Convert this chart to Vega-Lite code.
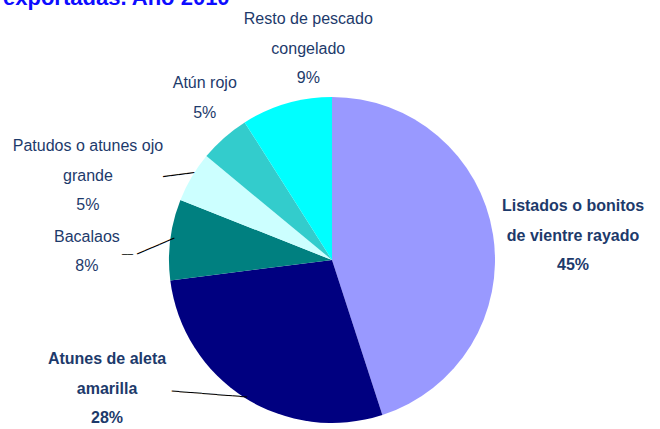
{
  "$schema": "https://vega.github.io/schema/vega-lite/v6.json",
  "width": 326,
  "height": 326,
  "autosize": "none",
  "padding": {"left": 169, "top": 97, "right": 165, "bottom": 6},
  "background": "white",
  "title": {"text": "exportadas. Año 2010", "anchor": "start", "frame": "group", "dx": -166, "dy": -1, "offset": 0, "fontSize": 22, "font": "Liberation Sans", "fontWeight": "bold", "color": "#0d0dff"},
  "data": {"values": [
    {"cat": "Listados o bonitos de vientre rayado", "label": "Listados o bonitos\nde vientre rayado\n45%", "pct": 45, "ord": 1},
    {"cat": "Atunes de aleta amarilla", "label": "Atunes de aleta\namarilla\n28%", "pct": 28, "ord": 2},
    {"cat": "Bacalaos", "label": "Bacalaos\n8%", "pct": 8, "ord": 3},
    {"cat": "Patudos o atunes ojo grande", "label": "Patudos o atunes ojo\ngrande\n5%", "pct": 5, "ord": 4},
    {"cat": "Atún rojo", "label": "Atún rojo\n5%", "pct": 5, "ord": 5},
    {"cat": "Resto de pescado congelado", "label": "Resto de pescado\ncongelado\n9%", "pct": 9, "ord": 6}
  ]},
  "encoding": {
    "theta": {"field": "pct", "type": "quantitative", "stack": true},
    "order": {"field": "ord", "type": "quantitative"}
  },
  "layer": [
    {"mark": {"type": "arc", "outerRadius": 163},
     "encoding": {"color": {"field": "cat", "type": "nominal", "legend": null,
       "scale": {"domain": ["Listados o bonitos de vientre rayado", "Atunes de aleta amarilla", "Bacalaos", "Patudos o atunes ojo grande", "Atún rojo", "Resto de pescado congelado"],
                 "range": ["#9999ff", "#000080", "#008080", "#ccffff", "#33cccc", "#00ffff"]}}}},
    {"mark": {"type": "text", "radius": 200, "dx": 43.5, "dy": -22.7, "font": "Liberation Sans", "fontSize": 16, "fontWeight": "bold", "lineBreak": "\n", "lineHeight": 29.5, "align": "center", "baseline": "middle", "color": "#1d3a6b"},
     "encoding": {"text": {"condition": {"test": "datum.ord == 1", "field": "label"}, "value": ""}}},
    {"mark": {"type": "text", "radius": 150, "dx": -144.6, "dy": -27.6, "font": "Liberation Sans", "fontSize": 16, "fontWeight": "bold", "lineBreak": "\n", "lineHeight": 29.5, "align": "center", "baseline": "middle", "color": "#1d3a6b"},
     "encoding": {"text": {"condition": {"test": "datum.ord == 2", "field": "label"}, "value": ""}}},
    {"mark": {"type": "text", "radius": 245, "dx": -2, "dy": 7.25, "font": "Liberation Sans", "fontSize": 16, "lineBreak": "\n", "lineHeight": 29.5, "align": "center", "baseline": "middle", "color": "#1d3a6b"},
     "encoding": {"text": {"condition": {"test": "datum.ord == 3", "field": "label"}, "value": ""}}},
    {"mark": {"type": "text", "radius": 258, "dx": -22, "dy": 17.5, "font": "Liberation Sans", "fontSize": 16, "lineBreak": "\n", "lineHeight": 29.5, "align": "center", "baseline": "middle", "color": "#1d3a6b"},
     "encoding": {"text": {"condition": {"test": "datum.ord == 4", "field": "label"}, "value": ""}}},
    {"mark": {"type": "text", "radius": 206, "dx": 9, "dy": -22.35, "font": "Liberation Sans", "fontSize": 16, "lineBreak": "\n", "lineHeight": 29.5, "align": "center", "baseline": "middle", "color": "#1d3a6b"},
     "encoding": {"text": {"condition": {"test": "datum.ord == 5", "field": "label"}, "value": ""}}},
    {"mark": {"type": "text", "radius": 214, "dx": 36, "dy": -35.2, "font": "Liberation Sans", "fontSize": 16, "lineBreak": "\n", "lineHeight": 29.5, "align": "center", "baseline": "middle", "color": "#1d3a6b"},
     "encoding": {"text": {"condition": {"test": "datum.ord == 6", "field": "label"}, "value": ""}}},
    {"mark": {"type": "text", "radius": 185, "dx": -25, "dy": -20, "angle": 4.5, "font": "DejaVu Sans Mono", "fontSize": 12.6, "align": "center", "baseline": "middle", "color": "black"},
     "encoding": {"text": {"condition": {"test": "datum.ord == 2", "value": "──────────"}, "value": ""}}},
    {"mark": {"type": "text", "radius": 185, "dx": 3, "dy": 12, "angle": -23.4, "font": "DejaVu Sans Mono", "fontSize": 13.4, "align": "center", "baseline": "middle", "color": "black"},
     "encoding": {"text": {"condition": {"test": "datum.ord == 3", "value": "─────"}, "value": ""}}},
    {"mark": {"type": "text", "radius": 185, "dx": -21, "dy": 18.5, "font": "DejaVu Sans Mono", "fontSize": 9.1, "align": "center", "baseline": "middle", "color": "black"},
     "encoding": {"text": {"condition": {"test": "datum.ord == 3", "value": "──"}, "value": ""}}},
    {"mark": {"type": "text", "radius": 185, "dx": 4.7, "dy": 10, "angle": -7.4, "font": "DejaVu Sans Mono", "fontSize": 13, "align": "center", "baseline": "middle", "color": "black"},
     "encoding": {"text": {"condition": {"test": "datum.ord == 4", "value": "────"}, "value": ""}}}
  ]
}
